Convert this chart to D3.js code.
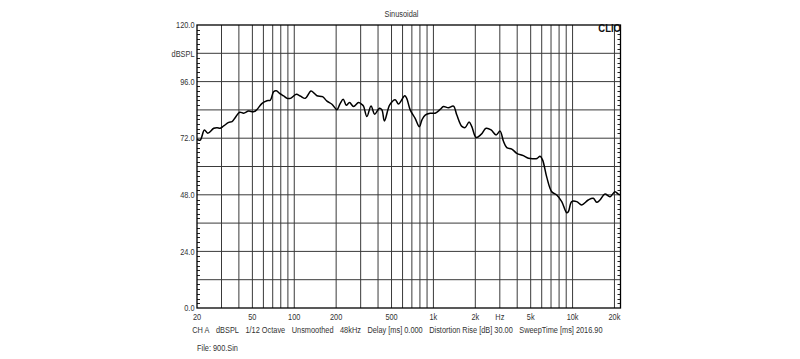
<!DOCTYPE html>
<html>
<head>
<meta charset="utf-8">
<script src="https://cdn.jsdelivr.net/npm/d3@7"></script>
<style>
html,body{margin:0;padding:0;background:#fff;}
svg{display:block;}
text{font-family:"Liberation Sans",Arial,sans-serif;}
</style>
</head>
<body>
<svg id="chart" width="800" height="359"></svg>
<script>
// ---- data ----
const freqs = [20, 21.1, 22.6, 23.9, 26.4, 27.9, 29.4, 31.1, 33.8, 35.7, 37.7, 40.5, 43.3, 47.0, 51.1, 54.0, 58.7, 63.7, 67.3, 71.0, 74.3, 78.5, 83.9, 88.7, 93.7, 103.4, 110.5, 120.0, 131.9, 139.3, 145.6, 159.7, 171.8, 186.6, 202.6, 214.0, 224.9, 236.3, 249.6, 266.7, 289.7, 306.4, 314.6, 332.7, 356.1, 378.6, 409.2, 426.5, 444.5, 485.2, 531.4, 561.2, 622.0, 642.9, 680.8, 739.3, 792.5, 826, 872.3, 947.7, 1029, 1118, 1181, 1282, 1393, 1473, 1600, 1690, 1806, 1888, 2027, 2201, 2391, 2597, 2821, 3013, 3182, 3366, 3656, 3972, 4429, 4812, 5200, 5555, 5838, 6084, 6522, 7083, 7693, 8357, 9077, 9320, 9858, 10707, 11632, 12969, 14085, 14900, 15740, 17096, 18570, 20170, 21300, 21900];
const spl = [71.5, 71.2, 75.5, 74.1, 76.2, 76.4, 76.2, 77.2, 78.7, 79.0, 80.8, 83.0, 82.6, 83.5, 83.2, 84.2, 86.8, 87.9, 88.1, 91.7, 92.1, 91.0, 89.9, 88.9, 88.9, 90.6, 89.9, 88.9, 92.0, 91.0, 90.0, 89.6, 87.7, 86.4, 84.1, 86.8, 88.5, 86.0, 87.1, 85.4, 87.1, 86.3, 85.6, 81.2, 85.7, 82.2, 84.7, 84.0, 79.3, 86.1, 88.3, 86.5, 90.0, 88.9, 84.0, 80.4, 76.9, 79.7, 81.8, 82.6, 82.6, 84.2, 85.4, 84.9, 85.6, 81.8, 77.0, 76.5, 78.9, 76.9, 72.3, 73.6, 76.2, 75.5, 73.4, 75.0, 70.8, 68.0, 67.4, 65.6, 64.6, 63.5, 63.3, 63.4, 64.3, 62.8, 55.5, 49.3, 47.9, 45.1, 40.4, 40.8, 45.1, 45.1, 43.7, 45.8, 46.5, 44.8, 45.8, 48.3, 47.2, 49.3, 48.3, 48.0];

const xTickValues = [20, 50, 100, 200, 500, 1000, 2000, 3000, 5000, 10000, 20000];
const xTickLabels = ["20", "50", "100", "200", "500", "1k", "2k", "Hz", "5k", "10k", "20k"];
const yTickValues = [0, 24, 48, 72, 96, 108, 120];
const yTickLabels = ["0.0", "24.0", "48.0", "72.0", "96.0", "dBSPL", "120.0"];
const yGridValues = [12, 24, 36, 48, 60, 72, 84, 96, 108];
const xGridValues = [30, 40, 50, 60, 70, 80, 90, 100, 200, 300, 400, 500, 600, 700, 800, 900, 1000, 2000, 3000, 4000, 5000, 6000, 7000, 8000, 9000, 10000, 20000];
const titleText = "Sinusoidal";
const brandText = "CLIO";
const footerItems = ["CH A", "dBSPL", "1/12 Octave", "Unsmoothed", "48kHz", "Delay [ms] 0.000", "Distortion Rise [dB] 30.00", "SweepTime [ms] 2016.90"];
const fileText = "File: 900.Sin";

// ---- layout ----
const L = 197, R = 620.5, T = 25, B = 308;
const SX = 0.82; // horizontal squeeze of the original lettering
const FS = 9;
const TXT = "#333";

const svg = d3.select("#chart");
const x = d3.scaleLog().domain([20, 22100]).range([L, R]);
const y = d3.scaleLinear().domain([0, 120]).range([B, T]);

function label(g, str, px, py, anchor, opts) {
  opts = opts || {};
  return g.append("text")
    .attr("transform", `translate(${px},${py}) scale(${opts.sx || SX},1)`)
    .attr("text-anchor", anchor)
    .attr("font-size", opts.size || FS)
    .attr("font-family", opts.family || null)
    .attr("font-weight", opts.weight || null)
    .attr("fill", opts.fill || TXT)
    .text(str);
}

// grid
const grid = svg.append("g");
grid.selectAll("line.v").data(xGridValues).join("line")
  .attr("x1", d => x(d)).attr("x2", d => x(d))
  .attr("y1", T).attr("y2", B)
  .attr("stroke", "#3a3a3a").attr("stroke-width", 1);
grid.selectAll("line.h").data(yGridValues).join("line")
  .attr("x1", L).attr("x2", R)
  .attr("y1", d => y(d)).attr("y2", d => y(d))
  .attr("stroke", "#3a3a3a").attr("stroke-width", 1);

// minor y ticks (every 2 dB) left and right, inside
const minor = d3.range(2, 120, 2).filter(v => v % 12 !== 0);
const ticks = svg.append("g").attr("stroke", "#222").attr("stroke-width", 1);
ticks.selectAll("line.l").data(minor).join("line")
  .attr("x1", L).attr("x2", L + 3)
  .attr("y1", d => Math.round(y(d)) + 0.5).attr("y2", d => Math.round(y(d)) + 0.5);
ticks.selectAll("line.r").data(minor).join("line")
  .attr("x1", R - 3).attr("x2", R)
  .attr("y1", d => Math.round(y(d)) + 0.5).attr("y2", d => Math.round(y(d)) + 0.5);

// curve
const line = d3.line()
  .x((d, i) => x(freqs[i]))
  .y(d => y(d))
  .curve(d3.curveCatmullRom.alpha(0.5));
svg.append("path")
  .attr("d", line(spl))
  .attr("fill", "none")
  .attr("stroke", "#000")
  .attr("stroke-width", 1.5)
  .attr("stroke-linejoin", "round");

// frame
svg.append("rect")
  .attr("x", L).attr("y", T)
  .attr("width", R - L).attr("height", B - T)
  .attr("fill", "none").attr("stroke", "#000").attr("stroke-width", 1.3);

// axis labels
const ax = svg.append("g");
xTickValues.forEach((v, i) => label(ax, xTickLabels[i], x(v), 319.5, "middle"));
yTickValues.forEach((v, i) => label(ax, yTickLabels[i], 194.5, y(v) + 3.2, "end"));

// title & brand
label(svg, titleText, 401.5, 16.5, "middle");
label(svg, brandText, 621, 32, "end", {family: "'Liberation Serif','Times New Roman',serif", weight: "bold", size: 10, sx: 0.95, fill: "#111"});

// footer
const foot = svg.append("g");
let fx = 192.3;
footerItems.forEach(s => {
  const t = label(foot, s, fx, 333, "start");
  const w = t.node().getComputedTextLength() * SX;
  fx += w + 6.5;
});
label(svg, fileText, 197, 350.5, "start");
</script>
</body>
</html>
